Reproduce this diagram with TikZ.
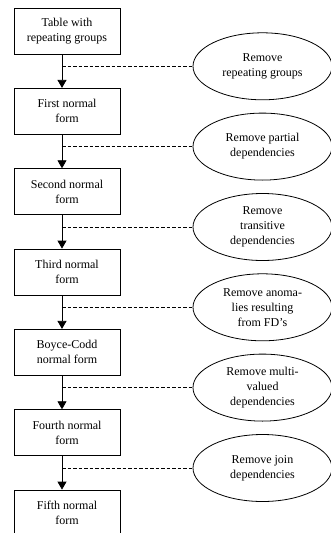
\documentclass[tikz,border=0pt]{standalone}
\usepackage{fontspec}
\setmainfont{Liberation Serif}
\usetikzlibrary{shapes.geometric,arrows.meta}
\begin{document}
\begin{tikzpicture}[x=1pt,y=-1pt,
  nf/.style={draw,line width=0.8pt,minimum width=106pt,minimum height=46pt,inner sep=0pt,align=center,font=\fontsize{12}{15}\selectfont},
  op/.style={draw,ellipse,line width=0.8pt,minimum width=139pt,minimum height=67pt,inner sep=0pt,align=center,font=\fontsize{12}{15}\selectfont},
  flow/.style={line width=0.8pt,-{Triangle[width=9pt,length=8pt]}},
  link/.style={line width=0.8pt,dash pattern=on 3.5pt off 2pt}]
\useasboundingbox (0,0) rectangle (331,533);
\clip (0,0) rectangle (331,533);
\fill[white] (0,0) rectangle (331,533);
\coordinate (ax) at (62,0);
\node[nf] (b1) at (67,31) {Table with\\repeating groups};
\node[nf] (b2) at (67,111.3) {First normal\\form};
\node[nf] (b3) at (67,191.7) {Second normal\\form};
\node[nf] (b4) at (67,272) {Third normal\\form};
\node[nf] (b5) at (67,352.3) {Boyce-Codd\\normal form};
\node[nf] (b6) at (67,432.7) {Fourth normal\\form};
\node[nf] (b7) at (67,513) {Fifth normal\\form};
\node[op] (e1) at (262.5,66.3) {Remove\\repeating groups};
\node[op] (e2) at (262.5,146.6) {Remove partial\\dependencies};
\node[op] (e3) at (262.5,227) {Remove\\transitive\\dependencies};
\node[op] (e4) at (262.5,307.3) {Remove anoma-\\lies resulting\\from FD’s};
\node[op] (e5) at (262.5,387.6) {Remove multi-\\valued\\dependencies};
\node[op] (e6) at (262.5,468) {Remove join\\dependencies};
\foreach \a/\b/\e in {b1/b2/e1,b2/b3/e2,b3/b4/e3,b4/b5/e4,b5/b6/e5,b6/b7/e6}{
  \draw[flow] (\a.south -| ax) -- (\b.north -| ax);
  \draw[link] (\e.west -| ax) -- (\e.west);
}
\end{tikzpicture}
\end{document}
